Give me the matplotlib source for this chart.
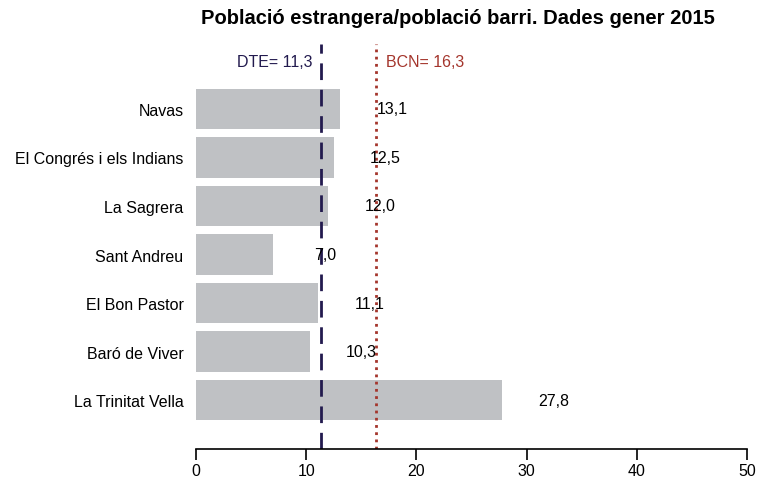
import matplotlib.pyplot as plt
import numpy as np

plt.rcParams["font.family"] = "sans-serif"
plt.rcParams["font.sans-serif"] = ["Liberation Sans", "DejaVu Sans"]

barris = [
    "Navas",
    "El Congrés i els Indians",
    "La Sagrera",
    "Sant Andreu",
    "El Bon Pastor",
    "Baró de Viver",
    "La Trinitat Vella",
]
valors = [13.1, 12.5, 12.0, 7.0, 11.1, 10.3, 27.8]
dte = 11.3
bcn = 16.3
xticks = [0, 10, 20, 30, 40, 50]

BAR = "#bfc1c4"
DTE_COL = "#221a4e"
BCN_COL = "#a4352c"
FS = 11.5


def coma(v):
    return f"{v:.1f}".replace(".", ",")


fig = plt.figure(figsize=(7.58, 4.81), dpi=100)
ax = fig.add_axes([196 / 758, 1 - 450 / 481, (747 - 196) / 758, (450 - 45) / 481])

y = np.arange(len(barris))
ax.barh(y, valors, height=0.83, color=BAR, zorder=1)
for yi, v in zip(y, valors):
    ax.text(v + 4.7, yi, coma(v), ha="center", va="center", fontsize=FS, color="black", zorder=3)

ax.axvline(dte, color=DTE_COL, linestyle=(0, (6, 3.5)), linewidth=2, zorder=2)
ax.axvline(bcn, color=BCN_COL, linestyle=(0, (1, 1.6)), linewidth=2, zorder=2)
ax.text(dte - 0.7, -0.98, f"DTE= {coma(dte)}", ha="right", va="center", fontsize=FS, color=DTE_COL)
ax.text(bcn + 0.9, -0.98, f"BCN= {coma(bcn)}", ha="left", va="center", fontsize=FS, color=BCN_COL)

ax.set_xlim(0, 50)
ax.set_ylim(6 + 1.01, -1.34)
ax.set_yticks(y, barris, fontsize=FS)
ax.tick_params(axis="y", length=0, pad=9)
ax.set_xticks(xticks, [str(t) for t in xticks], fontsize=FS)
ax.tick_params(axis="x", length=8, width=1.2, pad=2)
for side in ("top", "right", "left"):
    ax.spines[side].set_visible(False)
ax.spines["bottom"].set_linewidth(1.2)
ax.set_facecolor("none")

fig.text(458 / 758, 1 - 18 / 481, "Població estrangera/població barri. Dades gener 2015",
         ha="center", va="center", fontsize=14.5, fontweight="bold")

fig.savefig("out.png", dpi=100)
